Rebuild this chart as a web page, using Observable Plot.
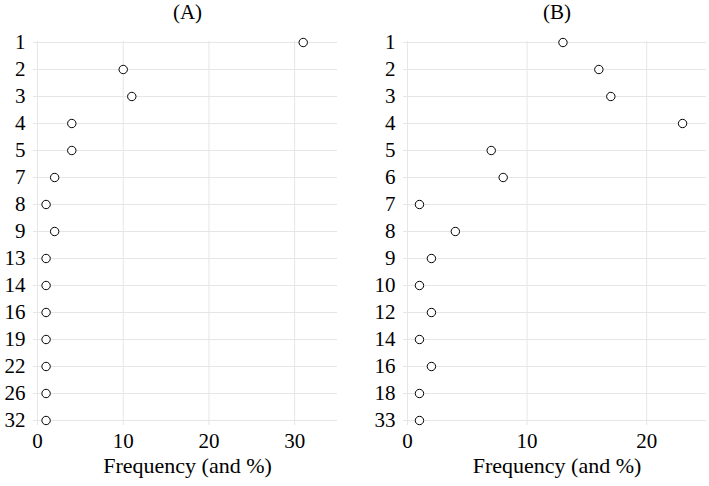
<!DOCTYPE html>
<html>
<head>
<meta charset="utf-8">
<script src="https://cdn.jsdelivr.net/npm/d3@7"></script>
<script src="https://cdn.jsdelivr.net/npm/@observablehq/plot@0.6"></script>
<style>
  html, body { margin: 0; padding: 0; background: #fff; }
  #wrap { display: flex; width: 709px; height: 486px; }
  #wrap svg { display: block; }
</style>
</head>
<body>
<div id="wrap"><div id="a"></div><div id="b"></div></div>
<script>
const catsA = ["1","2","3","4","5","7","8","9","13","14","16","19","22","26","32"];
const valsA = [31,10,11,4,4,2,1,2,1,1,1,1,1,1,1];
const catsB = ["1","2","3","4","5","6","7","8","9","10","12","14","16","18","33"];
const valsB = [13,16,17,23,7,8,1,4,2,1,2,1,2,1,1];
const ticksA = [0,10,20,30];
const ticksB = [0,10,20];
const xLabel = "Frequency (and %)";

const FONT = "Liberation Serif";
const GRID = "#e6e6e6";
const FS = 21;

function panel(title, cats, vals, xmax, ticks, width, mL, mR) {
  const data = cats.map((c, i) => ({cat: c, value: vals[i]}));
  return Plot.plot({
    width, height: 486,
    marginTop: 41, marginBottom: 65, marginLeft: mL, marginRight: mR,
    style: {fontFamily: FONT, fontSize: FS + "px", color: "black", background: "white"},
    x: {domain: [0, xmax], ticks},
    y: {type: "point", domain: cats, padding: 0},
    marks: [
      Plot.gridX({ticks, stroke: GRID, strokeOpacity: 1}),
      Plot.gridY({stroke: GRID, strokeOpacity: 1}),
      Plot.axisX({ticks, tickSize: 4, stroke: GRID, fill: "black", tickPadding: 8, fontSize: FS, label: null}),
      Plot.axisY({tickSize: 4, stroke: GRID, fill: "black", tickPadding: 8, fontSize: FS, label: null}),
      Plot.dot(data, {x: "value", y: "cat", r: 4.2, stroke: "black", strokeWidth: 1, fill: "white"}),
      Plot.text([title], {frameAnchor: "top", lineAnchor: "middle", dy: -29.5, fontSize: FS, fill: "black"}),
      Plot.text([xLabel], {frameAnchor: "bottom", lineAnchor: "middle", dy: 44, fontSize: 22, fill: "black"})
    ]
  });
}

document.getElementById("a").appendChild(panel("(A)", catsA, valsA, 35, ticksA, 355, 37, 18));
document.getElementById("b").appendChild(panel("(B)", catsB, valsB, 25, ticksB, 354, 52, 3));
</script>
</body>
</html>
